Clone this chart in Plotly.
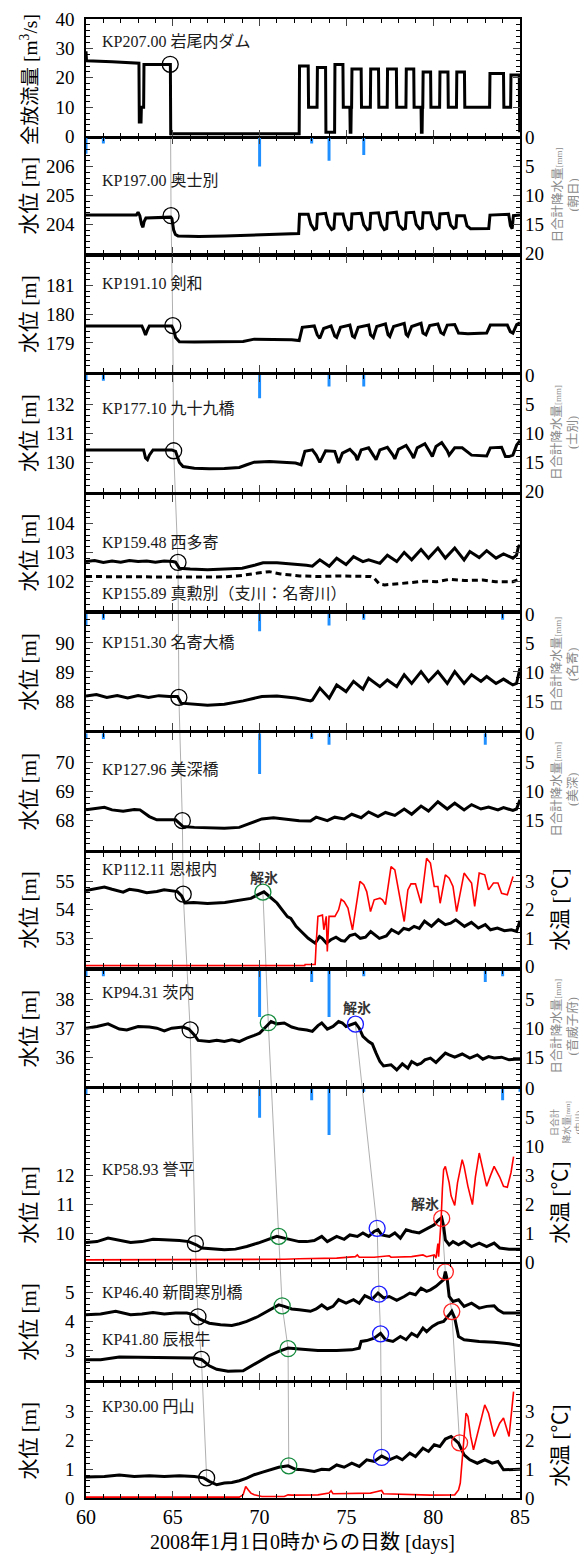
import plotly.graph_objects as go

# ======================= DATA =======================
X_RANGE = [60, 85]
X_TICKS = [60, 65, 70, 75, 80, 85]

# Panel 1: total outflow of Iwaonai dam [m3/s]
dam = [(60.0, 29), (60.03, 25.8), (61.5, 25.5), (62.5, 25.3), (63.05, 25.0), (63.07, 5), (63.17, 5), (63.19, 10),
       (63.32, 10), (63.34, 24.5), (64.86, 24.5), (64.88, 1.0), (72.28, 1.0), (72.3, 24), (72.8, 24), (72.82, 10),
       (73.31, 10), (73.33, 23.5), (73.8, 23.5), (73.82, 1.5), (74.32, 1.5), (74.34, 24.5), (74.8, 24.5), (74.82, 10),
       (75.2, 10), (75.22, 1.5), (75.26, 1.5), (75.28, 10), (75.3, 10), (75.32, 23), (75.85, 23), (75.87, 10),
       (76.38, 10), (76.4, 23), (76.85, 23), (76.87, 10), (77.35, 10), (77.37, 23), (77.88, 23), (77.9, 10),
       (78.43, 10), (78.45, 23), (78.88, 23), (78.9, 10), (79.3, 10), (79.32, 1.5), (79.36, 1.5), (79.38, 10),
       (79.4, 10), (79.42, 22), (79.85, 22), (79.87, 10), (80.37, 10), (80.39, 22), (80.85, 22), (80.87, 10),
       (81.34, 10), (81.36, 22), (81.8, 22), (81.82, 10), (83.25, 10), (83.27, 21.5), (84.05, 21.5), (84.07, 10),
       (84.46, 10), (84.48, 21), (84.96, 21), (84.98, 2), (85.0, 2)]

# Water levels [m]
okushibetsu = [(60.0, 204.32), (62.9, 204.32), (63.0, 204.42), (63.1, 204.3), (63.2, 204.0), (63.28, 203.9),
               (63.35, 204.1), (63.45, 204.22), (64.88, 204.25), (64.95, 204.2), (65.05, 203.8), (65.15, 203.65),
               (65.3, 203.6), (66.5, 203.58), (68.0, 203.6), (69.5, 203.62), (70.5, 203.65), (71.8, 203.66),
               (72.25, 203.68), (72.3, 204.35), (72.8, 204.35), (72.95, 204.0), (73.15, 203.82), (73.28, 203.86),
               (73.33, 204.35), (73.8, 204.38), (73.95, 204.0), (74.15, 203.82), (74.28, 203.86),
               (74.34, 204.36), (74.8, 204.36), (74.95, 203.98), (75.12, 203.82), (75.27, 203.86),
               (75.32, 204.36), (75.85, 204.38), (76.0, 203.98), (76.2, 203.82), (76.35, 203.86),
               (76.4, 204.38), (76.85, 204.4), (77.0, 203.98), (77.18, 203.82), (77.32, 203.86),
               (77.37, 204.38), (77.88, 204.42), (78.02, 203.98), (78.25, 203.83), (78.4, 203.86),
               (78.45, 204.4), (78.88, 204.42), (79.02, 204.0), (79.22, 203.85), (79.37, 203.88),
               (79.42, 204.4), (79.85, 204.4), (80.0, 204.0), (80.2, 203.84), (80.34, 203.88),
               (80.39, 204.36), (80.85, 204.38), (81.0, 203.98), (81.18, 203.86), (81.31, 203.9),
               (81.36, 204.3), (81.8, 204.3), (81.95, 203.95), (82.15, 203.85), (83.2, 203.86),
               (83.27, 204.32), (84.35, 204.35), (84.45, 203.95), (84.55, 203.85), (84.62, 204.3), (85.0, 204.32)]

kenwa = [(60.00, 179.59), (63.22, 179.59), (63.32, 179.45), (63.43, 179.28), (63.54, 179.45), (63.65, 179.59),
         (64.94, 179.59), (65.05, 179.45), (65.16, 179.19), (65.38, 179.04), (66.24, 179.03), (67.97, 179.04),
         (69.05, 179.05), (69.69, 179.13), (70.56, 179.13), (71.85, 179.11), (72.28, 179.08), (72.46, 179.54),
         (73.15, 179.59), (73.32, 179.28), (73.47, 179.16), (73.69, 179.5), (74.12, 179.59), (74.33, 179.24),
         (74.44, 179.19), (74.66, 179.54), (75.2, 179.62), (75.35, 179.24), (75.47, 179.19), (75.68, 179.54),
         (76.28, 179.62), (76.39, 179.28), (76.55, 179.19), (76.75, 179.57), (77.25, 179.66), (77.4, 179.28),
         (77.5, 179.22), (77.72, 179.57), (78.33, 179.68), (78.44, 179.3), (78.54, 179.24), (78.76, 179.57),
         (79.3, 179.68), (79.41, 179.34), (79.58, 179.28), (79.8, 179.6), (80.27, 179.66), (80.44, 179.36),
         (80.6, 179.3), (80.81, 179.62), (81.24, 179.64), (81.46, 179.34), (82.0, 179.32), (82.32, 179.32),
         (83.08, 179.34), (83.29, 179.62), (84.27, 179.62), (84.44, 179.39), (84.59, 179.34), (84.81, 179.64),
         (85.0, 179.7)]

tsukumo = [(60.00, 130.43), (63.32, 130.43), (63.43, 130.15), (63.54, 130.09), (63.65, 130.25), (63.86, 130.43),
           (64.94, 130.43), (65.16, 130.38), (65.38, 130.0), (65.59, 129.86), (66.24, 129.8), (67.1, 129.78),
           (67.97, 129.79), (68.83, 129.83), (69.26, 129.92), (69.69, 130.01), (70.56, 130.03), (71.42, 130.0),
           (72.07, 129.98), (72.39, 129.92), (72.61, 130.38), (73.04, 130.43), (73.26, 130.25), (73.47, 130.0),
           (73.58, 130.15), (73.8, 130.4), (74.33, 130.38), (74.44, 130.15), (74.55, 129.98), (74.77, 130.32),
           (75.2, 130.45), (75.52, 130.25), (75.63, 130.08), (75.85, 130.43), (76.28, 130.5), (76.6, 130.2),
           (76.71, 130.09), (76.93, 130.43), (77.36, 130.52), (77.68, 130.25), (77.79, 130.12), (78.0, 130.45),
           (78.44, 130.58), (78.76, 130.28), (78.87, 130.15), (79.08, 130.5), (79.52, 130.64), (79.84, 130.32),
           (79.95, 130.2), (80.16, 130.55), (80.49, 130.68), (80.81, 130.4), (80.92, 130.25), (81.24, 130.5),
           (81.67, 130.5), (82.21, 130.25), (83.08, 130.22), (83.29, 130.5), (83.94, 130.52), (84.16, 130.2),
           (84.37, 130.2), (84.59, 130.25), (84.81, 130.6), (85.0, 130.75)]

nishitayose = [(60.0, 102.68), (60.5, 102.72), (61.0, 102.65), (61.5, 102.7), (62.0, 102.66), (62.5, 102.72),
               (63.0, 102.68), (63.5, 102.7), (64.0, 102.66), (64.5, 102.7), (65.0, 102.68), (65.16, 102.66),
               (65.38, 102.45), (66.0, 102.42), (67.0, 102.4), (68.0, 102.42), (69.0, 102.45), (69.7, 102.55),
               (70.2, 102.64), (71.0, 102.64), (72.0, 102.6), (72.7, 102.55), (73.04, 102.52), (73.47, 102.74),
               (74.01, 102.52), (74.44, 102.8), (74.98, 102.58), (75.41, 102.85), (75.95, 102.68), (76.28, 102.74),
               (76.93, 102.62), (77.36, 102.9), (77.9, 102.68), (78.33, 103.0), (78.76, 102.74), (79.3, 103.1),
               (79.73, 102.8), (80.27, 103.15), (80.7, 102.8), (81.24, 103.15), (81.78, 102.74), (82.11, 103.03),
               (82.65, 102.82), (83.08, 103.06), (83.62, 102.8), (84.05, 102.95), (84.59, 102.8), (84.8, 102.9),
               (84.91, 103.2), (85.0, 103.25)]

makunbetsu = [(60.0, 102.16), (62.0, 102.15), (64.0, 102.16), (66.0, 102.14), (67.97, 102.15), (69.0, 102.2),
              (69.9, 102.28), (70.56, 102.33), (71.2, 102.25), (72.3, 102.18), (73.5, 102.16), (74.5, 102.18),
              (75.5, 102.17), (76.39, 102.16), (76.6, 102.1), (76.9, 101.9), (77.2, 101.87), (78.0, 101.9),
              (78.76, 101.95), (79.5, 102.0), (80.2, 101.98), (80.92, 102.06), (81.8, 102.02), (82.86, 102.04),
              (83.6, 101.98), (84.59, 101.98), (84.9, 102.05), (85.0, 102.12)]

nayoro_br = [(60.0, 88.17), (60.6, 88.22), (61.2, 88.12), (61.8, 88.18), (62.4, 88.1), (63.0, 88.18), (63.6, 88.12),
             (64.2, 88.18), (64.8, 88.15), (65.27, 88.15), (65.48, 87.92), (66.2, 87.88), (67.0, 87.85),
             (67.97, 87.88), (69.05, 88.0), (70.13, 88.15), (71.0, 88.17), (72.07, 88.1), (72.61, 88.05),
             (72.93, 88.0), (73.04, 88.03), (73.47, 88.44), (74.01, 88.09), (74.44, 88.55), (74.98, 88.32),
             (75.41, 88.67), (75.95, 88.4), (76.28, 88.78), (76.93, 88.49), (77.36, 88.72), (77.9, 88.49),
             (78.33, 88.9), (78.76, 88.6), (79.3, 89.01), (79.73, 88.67), (80.27, 89.01), (80.81, 88.6),
             (81.24, 89.01), (81.78, 88.6), (82.21, 88.9), (82.75, 88.67), (83.08, 88.84), (83.62, 88.6),
             (84.05, 88.75), (84.59, 88.55), (84.8, 88.6), (85.0, 89.13)]

bifuka_br = [(60.0, 68.37), (61.06, 68.46), (61.5, 68.37), (62.14, 68.32), (62.78, 68.38), (63.11, 68.37),
             (63.65, 68.14), (64.08, 68.03), (65.16, 68.03), (65.59, 67.8), (66.24, 67.77), (67.97, 67.74),
             (68.83, 67.77), (70.13, 68.06), (70.8, 68.1), (71.42, 68.06), (72.28, 68.0), (72.93, 67.99),
             (73.26, 68.12), (73.9, 68.0), (74.33, 68.12), (74.87, 68.06), (75.31, 68.22), (75.85, 68.1),
             (76.28, 68.3), (76.82, 68.14), (77.25, 68.28), (77.79, 68.18), (78.33, 68.4), (78.76, 68.22),
             (79.3, 68.5), (79.73, 68.33), (80.27, 68.65), (80.81, 68.4), (81.24, 68.6), (81.78, 68.37),
             (82.21, 68.55), (82.75, 68.4), (83.19, 68.47), (83.73, 68.37), (84.05, 68.45), (84.59, 68.35),
             (84.8, 68.4), (85.0, 68.72)]

onnenai = [(60.0, 54.68), (61.06, 54.8), (61.5, 54.72), (62.14, 54.62), (62.5, 54.72), (63.0, 54.68), (63.5, 54.6),
           (64.08, 54.64), (64.5, 54.7), (65.27, 54.64), (65.5, 54.5), (65.7, 54.24), (66.2, 54.26), (67.0, 54.22),
           (68.0, 54.26), (68.5, 54.3), (69.0, 54.35), (69.5, 54.4), (70.0, 54.56), (70.25, 54.63), (70.6, 54.45),
           (71.0, 54.24), (71.3, 54.0), (71.6, 53.76), (71.8, 53.7), (72.1, 53.42), (72.4, 53.24), (72.8, 53.0),
           (73.2, 52.83), (73.35, 52.95), (73.45, 53.06), (73.6, 53.0), (73.85, 52.83), (74.1, 52.95),
           (74.4, 53.04), (74.7, 52.92), (74.9, 52.9), (75.2, 53.1), (75.5, 53.15), (75.8, 53.0), (76.1, 53.04),
           (76.4, 53.24), (76.9, 53.0), (77.3, 53.08), (77.6, 53.3), (78.0, 53.17), (78.3, 53.35), (78.6, 53.3),
           (78.9, 53.42), (79.2, 53.35), (79.5, 53.6), (79.9, 53.42), (80.3, 53.65), (80.7, 53.48), (81.0, 53.53),
           (81.3, 53.65), (81.8, 53.42), (82.2, 53.56), (82.6, 53.36), (83.0, 53.48), (83.3, 53.3), (83.7, 53.36),
           (84.1, 53.27), (84.5, 53.3), (84.8, 53.24), (85.0, 53.62)]

ubaranai = [(60.0, 37.01), (60.63, 37.07), (61.27, 37.16), (61.92, 36.98), (62.35, 36.95), (63.0, 37.07),
            (63.65, 37.05), (64.08, 37.01), (64.51, 36.92), (64.94, 37.01), (65.59, 37.05), (65.92, 36.98),
            (66.24, 36.78), (66.46, 36.59), (67.1, 36.55), (67.53, 36.59), (67.97, 36.55), (68.4, 36.61),
            (68.83, 36.55), (69.26, 36.67), (69.69, 36.76), (70.0, 36.84), (70.38, 37.07), (70.66, 37.24),
            (70.99, 37.16), (71.42, 37.19), (71.85, 37.05), (72.28, 36.98), (72.72, 36.95), (73.04, 36.9),
            (73.36, 37.1), (73.58, 37.19), (73.9, 36.98), (74.23, 37.07), (74.55, 37.24), (74.77, 37.19),
            (74.98, 37.07), (75.2, 37.13), (75.52, 37.19), (75.74, 37.01), (75.95, 36.73), (76.28, 36.55),
            (76.49, 36.47), (76.71, 36.15), (76.93, 35.86), (77.14, 35.71), (77.57, 35.75), (77.9, 35.57),
            (78.22, 35.78), (78.54, 35.63), (78.76, 35.86), (79.08, 35.75), (79.3, 35.8), (79.52, 35.92),
            (79.84, 35.98), (80.16, 35.83), (80.49, 36.03), (80.7, 36.15), (80.92, 36.09), (81.24, 36.01),
            (81.67, 36.12), (82.11, 35.98), (82.54, 36.09), (82.86, 35.94), (83.19, 36.03), (83.51, 35.98),
            (83.94, 36.01), (84.37, 35.92), (84.7, 35.94), (85.0, 35.94)]

homarehira = [(60.0, 9.69), (60.63, 9.72), (61.27, 9.84), (61.92, 9.76), (62.57, 9.69), (63.22, 9.72), (63.86, 9.8),
              (64.51, 9.78), (65.38, 9.76), (65.92, 9.72), (66.35, 9.61), (66.67, 9.5), (67.32, 9.46), (67.97, 9.44),
              (68.61, 9.46), (69.26, 9.55), (69.91, 9.67), (70.56, 9.8), (70.99, 9.9), (71.42, 9.84), (71.85, 9.78),
              (72.28, 9.72), (72.72, 9.72), (73.15, 9.76), (73.58, 9.9), (73.9, 9.72), (74.44, 9.9), (74.87, 9.8),
              (75.2, 9.95), (75.63, 9.9), (75.95, 10.02), (76.28, 9.9), (76.6, 10.07), (76.82, 10.13),
              (77.03, 9.95), (77.47, 9.9), (77.79, 10.02), (78.11, 9.84), (78.44, 10.13), (78.76, 10.07),
              (79.19, 10.02), (79.52, 10.13), (79.84, 10.25), (80.06, 10.3), (80.27, 10.45), (80.49, 10.55),
              (80.6, 10.25), (80.7, 9.78), (80.92, 9.61), (81.14, 9.72), (81.46, 9.61), (81.78, 9.72),
              (82.21, 9.55), (82.65, 9.67), (83.08, 9.55), (83.51, 9.67), (83.83, 9.5), (84.37, 9.46), (85.0, 9.46)]

shinkanbetsu = [(60.0, 4.24), (60.84, 4.27), (61.71, 4.36), (62.57, 4.24), (63.22, 4.27), (63.86, 4.32),
                (64.51, 4.27), (65.16, 4.3), (65.81, 4.3), (66.24, 4.24), (66.56, 4.09), (67.1, 3.95),
                (67.75, 3.9), (68.4, 3.87), (68.83, 3.93), (69.26, 4.01), (69.91, 4.18), (70.56, 4.41),
                (71.1, 4.58), (71.42, 4.53), (71.85, 4.44), (72.28, 4.41), (72.93, 4.36), (73.26, 4.44),
                (73.58, 4.58), (73.9, 4.44), (74.23, 4.53), (74.55, 4.76), (74.98, 4.64), (75.41, 4.76),
                (75.74, 4.64), (76.06, 4.9), (76.49, 4.78), (76.82, 4.99), (77.14, 4.82), (77.47, 4.87),
                (77.9, 4.74), (78.33, 4.87), (78.65, 4.99), (78.98, 4.93), (79.3, 5.16), (79.62, 5.05),
                (79.84, 5.1), (80.16, 5.22), (80.38, 5.33), (80.6, 5.45), (80.7, 5.73), (80.81, 5.45),
                (80.92, 4.87), (81.14, 4.7), (81.46, 4.76), (81.78, 4.53), (82.21, 4.64), (82.65, 4.47),
                (83.08, 4.53), (83.51, 4.55), (83.73, 4.41), (84.05, 4.3), (84.37, 4.3), (85.0, 4.3)]

tatsuneushi = [(60.0, 2.69), (60.84, 2.69), (61.92, 2.78), (62.78, 2.77), (64.08, 2.75), (65.16, 2.75),
               (66.24, 2.75), (66.67, 2.69), (67.1, 2.48), (67.53, 2.36), (68.18, 2.29), (69.05, 2.31),
               (69.48, 2.46), (70.13, 2.69), (70.56, 2.83), (71.1, 2.98), (71.64, 3.09), (72.28, 3.06),
               (73.36, 3.01), (74.44, 3.01), (75.31, 3.03), (75.74, 3.09), (75.85, 3.32), (76.17, 3.35),
               (76.6, 3.43), (76.97, 3.6), (77.25, 3.38), (77.68, 3.32), (78.11, 3.49), (78.44, 3.38),
               (78.76, 3.6), (79.08, 3.49), (79.41, 3.78), (79.62, 3.66), (79.95, 3.84), (80.27, 3.95),
               (80.6, 4.01), (80.92, 4.24), (81.07, 4.36), (81.24, 4.13), (81.46, 3.49), (81.78, 3.38),
               (82.65, 3.32), (83.51, 3.29), (84.37, 3.24), (85.0, 3.17)]

maruyama = [(60.0, 0.73), (61.06, 0.75), (61.92, 0.8), (62.78, 0.75), (63.65, 0.77), (64.51, 0.75), (65.38, 0.77),
            (66.24, 0.75), (66.78, 0.7), (67.1, 0.58), (67.53, 0.46), (67.97, 0.52), (68.4, 0.54), (68.83, 0.6),
            (69.26, 0.69), (69.69, 0.81), (70.13, 0.89), (70.56, 0.98), (71.1, 1.07), (71.64, 1.12), (72.07, 1.0),
            (72.5, 0.98), (73.15, 0.92), (73.58, 1.0), (74.01, 0.98), (74.44, 1.15), (74.87, 1.07), (75.31, 1.21),
            (75.74, 1.1), (76.17, 1.33), (76.6, 1.27), (77.03, 1.46), (77.47, 1.33), (77.9, 1.44), (78.22, 1.33),
            (78.65, 1.56), (78.98, 1.44), (79.41, 1.73), (79.73, 1.62), (80.06, 1.85), (80.38, 1.79), (80.7, 2.05),
            (81.03, 2.14), (81.24, 2.03), (81.46, 1.91), (81.78, 1.5), (82.11, 1.33), (82.54, 1.21), (82.97, 1.33),
            (83.4, 1.21), (83.73, 1.27), (84.05, 0.98), (84.59, 0.98), (85.0, 1.0)]

# Water temperature [deg C]
temp_onnenai = [(60.0, 0.04), (72.6, 0.04), (72.62, 0.08), (73.2, 0.08), (73.26, 0.83), (73.36, 1.77), (73.62, 1.82),
                (73.7, 1.3), (73.84, 1.77), (73.9, 0.54), (74.0, 1.77), (74.34, 1.77), (74.55, 2.0), (74.7, 2.37),
                (74.87, 2.29), (75.09, 2.06), (75.35, 1.3), (75.63, 2.47), (75.78, 3.0), (76.0, 2.88),
                (76.17, 2.64), (76.39, 1.94), (76.6, 2.35), (76.93, 2.41), (77.08, 2.35), (77.25, 2.18),
                (77.57, 3.52), (77.79, 3.4), (78.0, 2.7), (78.33, 1.59), (78.54, 2.7), (78.72, 2.91),
                (78.98, 2.91), (79.3, 2.23), (79.62, 3.81), (79.84, 3.64), (80.06, 2.82), (80.27, 2.82),
                (80.4, 2.23), (80.7, 3.23), (80.92, 3.11), (81.14, 2.82), (81.35, 1.94), (81.78, 3.29),
                (82.0, 3.11), (82.21, 2.94), (82.39, 2.12), (82.65, 3.29), (82.97, 3.23), (83.19, 2.7),
                (83.47, 2.94), (83.73, 2.94), (83.94, 2.58), (84.27, 2.53), (84.6, 3.17)]

temp_homarehira = [(60.0, 0.09), (70.13, 0.09), (71.42, 0.11), (72.28, 0.13), (74.44, 0.15), (75.52, 0.2),
                   (75.63, 0.26), (75.74, 0.18), (76.6, 0.18), (77.47, 0.23), (77.57, 0.18), (78.76, 0.2),
                   (79.41, 0.26), (79.62, 0.2), (80.06, 0.26), (80.16, 0.15), (80.27, 0.65), (80.31, 0.2),
                   (80.45, 1.4), (80.53, 2.55), (80.6, 3.2), (80.7, 3.32), (80.92, 2.75), (81.03, 2.3),
                   (81.24, 1.97), (81.4, 2.75), (81.67, 3.55), (81.78, 3.32), (82.0, 2.63), (82.26, 2.0),
                   (82.43, 2.95), (82.65, 3.78), (82.86, 3.2), (83.08, 2.63), (83.3, 3.0), (83.51, 3.32),
                   (83.83, 2.95), (84.05, 2.63), (84.27, 2.6), (84.48, 3.1), (84.63, 3.66)]

temp_maruyama = [(60.0, 0.03), (68.83, 0.03), (69.05, 0.11), (69.2, 0.4), (69.35, 0.28), (69.5, 0.17),
                 (69.69, 0.11), (70.13, 0.05), (71.42, 0.05), (71.64, 0.11), (71.85, 0.1), (73.36, 0.11),
                 (74.0, 0.17), (74.12, 0.25), (74.23, 0.15), (75.74, 0.16), (76.39, 0.17), (76.6, 0.2),
                 (77.03, 0.26), (77.14, 0.15), (78.76, 0.11), (79.84, 0.1), (81.24, 0.11), (81.46, 0.28),
                 (81.56, 0.52), (81.67, 1.33), (81.78, 2.26), (81.89, 2.95), (82.0, 2.84), (82.16, 2.14),
                 (82.32, 1.68), (82.65, 2.49), (82.97, 3.24), (83.19, 2.95), (83.51, 2.14), (83.83, 2.6),
                 (84.05, 2.78), (84.37, 2.14), (84.5, 2.9), (84.63, 3.7)]

# Daily precipitation [mm]: (day, mm)
rain_asahi = [(60, 2.8), (61, 1), (70, 5), (73, 1), (74, 4), (76, 3)]
rain_shibetsu = [(60, 1), (61, 1), (70, 4), (74, 2), (76, 2)]
rain_nayoro = [(60, 2), (61, 1), (70, 3), (74, 2), (76, 1), (84, 1)]
rain_bifuka = [(60, 1), (61, 1), (70, 7), (73, 1), (74, 2), (83, 2)]
rain_otoineppu = [(60, 1), (61, 1), (70, 8), (73, 2), (74, 8), (76, 1), (83, 2), (84, 1)]
rain_nakagawa = [(60, 1), (70, 5), (73, 2), (74, 8), (76, 0.5), (84, 2), (85, 0.5)]

# Break-up events: (day, level, panel index)
ev_black = [(64.85, 24.6, 0), (64.9, 204.3, 1), (65.0, 179.6, 2), (65.05, 130.4, 3), (65.3, 102.65, 4),
            (65.35, 88.12, 5), (65.55, 68.0, 6), (65.6, 54.55, 7), (66.0, 36.95, 8), (66.3, 9.65, 9),
            (66.45, 4.17, 10), (66.65, 2.7, 10), (66.95, 0.7, 11)]
ev_green = [(70.19, 54.62, 7), (70.5, 37.2, 8), (71.1, 9.9, 9), (71.3, 4.55, 10), (71.64, 3.07, 10), (71.68, 1.12, 11)]
ev_blue = [(75.52, 37.15, 8), (76.77, 10.18, 9), (76.88, 4.95, 10), (76.97, 3.58, 10), (77.03, 1.41, 11)]
ev_red = [(80.49, 10.52, 9), (80.7, 5.72, 10), (81.07, 4.35, 10), (81.52, 1.92, 11)]
thaw_labels = [(70.23, 7), (75.63, 8), (79.52, 9)]

station_labels = ["KP207.00 岩尾内ダム", "KP197.00 奥士別", "KP191.10 剣和", "KP177.10 九十九橋",
                  "KP159.48 西多寄", "KP151.30 名寄大橋", "KP127.96 美深橋", "KP112.11 恩根内",
                  "KP94.31 茨内", "KP58.93 誉平", "KP46.40 新間寒別橋", "KP30.00 円山"]
sub_labels = ["KP155.89 真勲別（支川：名寄川）", "KP41.80 辰根牛"]
rain_names = ["(朝日)", "(士別)", "(名寄)", "(美深)", "(音威子府)", "(中川)"]

left_ranges = [[0, 40], [203, 207], [178, 182], [129, 133], [101, 105], [87, 91], [67, 71], [52, 56],
               [35, 39], [9, 15], [2, 6], [0, 4]]
left_ticks = [[0, 10, 20, 30, 40], [204, 205, 206], [179, 180, 181], [130, 131, 132], [102, 103, 104],
              [88, 89, 90], [68, 69, 70], [53, 54, 55], [36, 37, 38], [10, 11, 12], [3, 4, 5], [0, 1, 2, 3]]
left_titles = ["全放流量 [m<sup>3</sup>/s]"] + ["水位 [m]"] * 11

# ======================= LAYOUT =======================
PAGE_OFF = 8            # default body margin of the html page
PAGE_W, PAGE_H = 587, 1557
PLOT_L, PLOT_R, PLOT_T, PLOT_B = 86, 520, 19, 1498.3   # plot area in page pixels
W, H = PAGE_W - PAGE_OFF, PAGE_H - PAGE_OFF
ML, MT = PLOT_L - PAGE_OFF, PLOT_T - PAGE_OFF
MR = W - (PLOT_R - PAGE_OFF)
MB = H - (PLOT_B - PAGE_OFF)
PANEL_PX = [(19, 136.7), (137.7, 253.3), (256.7, 371.7), (375, 491.7), (495, 610), (614, 730), (733.3, 850),
            (853, 967), (970.7, 1086.7), (1089, 1262.7), (1264, 1380), (1383.3, 1498.3)]
PH = PLOT_B - PLOT_T
PW = PLOT_R - PLOT_L


def py(p):
    return (PLOT_B - p) / PH


def pxx(p):
    return (p - PLOT_L) / PW


domains = [[py(b), py(t)] for t, b in PANEL_PX]

SERIF = "Liberation Serif, Noto Sans CJK JP, serif"
BLUE = "#1f8fff"
RED = "#ff0000"


def sfx(i):
    return "" if i == 0 else str(i + 1)


def to_paper(p, v):
    r = left_ranges[p]
    d = domains[p]
    return d[0] + (v - r[0]) / (r[1] - r[0]) * (d[1] - d[0])


fig = go.Figure()
layout = dict(template="none", width=W, height=H, margin=dict(l=ML, r=MR, t=MT, b=MB, autoexpand=False),
              paper_bgcolor="white", plot_bgcolor="rgba(0,0,0,0)", showlegend=False,
              font=dict(family=SERIF, size=19, color="black"), barmode="overlay")

for i in range(12):
    s = sfx(i)
    layout["xaxis" + s] = dict(domain=[0, 1], range=X_RANGE, anchor="y" + s, tickvals=X_TICKS,
                               ticks="inside", ticklen=7, tickwidth=1.2, mirror="ticks", showline=True,
                               linecolor="black", linewidth=1.5, showgrid=False, zeroline=False,
                               automargin=False, showticklabels=(i == 11), tickfont=dict(size=20),
                               minor=dict(dtick=1, tick0=60, ticks="inside", ticklen=4, tickcolor="black",
                                          showgrid=False))
    if i > 0:
        layout["xaxis" + s]["matches"] = "x"
    lr = left_ranges[i]
    mdt = 2 if i == 0 else 0.2
    layout["yaxis" + s] = dict(domain=domains[i], range=lr, anchor="x" + s, tickvals=left_ticks[i],
                               ticks="inside", ticklen=7, tickwidth=1.2, mirror="ticks", showline=True,
                               linecolor="black", linewidth=1.5, showgrid=False, zeroline=False,
                               automargin=False, ticklabelstandoff=6, tickfont=dict(size=19),
                               minor=dict(dtick=mdt, tick0=0, ticks="inside", ticklen=4, tickcolor="black",
                                          showgrid=False))

extra = 13


def add_right_axis(panel, rng, tickvals, minor_dt):
    global extra
    name = str(extra)
    extra += 1
    layout["yaxis" + name] = dict(overlaying="y" + sfx(panel), side="right", anchor="x" + sfx(panel),
                                  range=rng, tickvals=tickvals, ticks="inside", ticklen=7, tickwidth=1.2,
                                  showline=False, showgrid=False, zeroline=False, tickfont=dict(size=19),
                                  ticklabelstandoff=4, automargin=False,
                                  minor=dict(dtick=minor_dt, tick0=0, ticks="inside", ticklen=4,
                                             tickcolor="black", showgrid=False))
    return "y" + name


# left-axis series
series = [(0, dam, "solid"), (1, okushibetsu, "solid"), (2, kenwa, "solid"), (3, tsukumo, "solid"),
          (4, makunbetsu, "dash"), (4, nishitayose, "solid"), (5, nayoro_br, "solid"), (6, bifuka_br, "solid"),
          (7, onnenai, "solid"), (8, ubaranai, "solid"), (9, homarehira, "solid"), (10, shinkanbetsu, "solid"),
          (10, tatsuneushi, "solid"), (11, maruyama, "solid")]
for p, data, dash in series:
    t, v = zip(*data)
    fig.add_trace(go.Scatter(x=t, y=v, mode="lines", xaxis="x" + sfx(p), yaxis="y" + sfx(p),
                             line=dict(color="black", width=3, dash=("6px,4px" if dash == "dash" else "solid")),
                             hoverinfo="skip"))

# precipitation
rain_sets = [(1, rain_asahi, [20, 0], [0, 5, 10, 15, 20]), (3, rain_shibetsu, [20, 0], [0, 5, 10, 15, 20]),
             (5, rain_nayoro, [20, 0], [0, 5, 10, 15]), (6, rain_bifuka, [20, 0], [0, 5, 10, 15]),
             (8, rain_otoineppu, [20, 0], [5, 10, 15]), (9, rain_nakagawa, [30, 0], [0, 5, 10])]
for p, data, rng, tv in rain_sets:
    yname = add_right_axis(p, rng, tv, 1)
    d, mm = zip(*data)
    fig.add_trace(go.Bar(x=d, y=mm, width=0.17, xaxis="x" + sfx(p), yaxis=yname,
                         marker=dict(color=BLUE, line=dict(width=0)), hoverinfo="skip"))

# water temperature
temp_sets = [(7, temp_onnenai, [0, 4]), (9, temp_homarehira, [0, 6]), (11, temp_maruyama, [0, 4])]
for p, data, rng in temp_sets:
    yname = add_right_axis(p, rng, [0, 1, 2, 3], 0.2)
    t, v = zip(*data)
    fig.add_trace(go.Scatter(x=t, y=v, mode="lines", xaxis="x" + sfx(p), yaxis=yname,
                             line=dict(color=RED, width=1.6), hoverinfo="skip"))

# connector lines and circles
shapes = []
for evs, col in [(ev_black, "black"), (ev_green, "#138a3c"), (ev_blue, "#1a1aff"), (ev_red, "#ff2020")]:
    for k in range(len(evs) - 1):
        a, b = evs[k], evs[k + 1]
        shapes.append(dict(type="line", xref="x", yref="paper", x0=a[0], x1=b[0],
                           y0=to_paper(a[2], a[1]), y1=to_paper(b[2], b[1]),
                           line=dict(color="#b0b0b0", width=1), layer="below"))
    for t, v, p in evs:
        fig.add_trace(go.Scatter(x=[t], y=[v], mode="markers", xaxis="x" + sfx(p), yaxis="y" + sfx(p),
                                 marker=dict(symbol="circle-open", size=16, color=col, line=dict(width=1.3)),
                                 cliponaxis=False, hoverinfo="skip"))

annotations = []


def note(text, x, y, xref="paper", size=19, color="black", angle=0, xanchor="center", family=None):
    f = dict(size=size, color=color)
    if family:
        f["family"] = family
    annotations.append(dict(text=text, xref=xref, yref="paper", x=x, y=y, xanchor=xanchor, yanchor="middle",
                            showarrow=False, textangle=angle, font=f))


label_px = [41.7, 181, 284, 409, 542.5, 642.5, 770, 870, 992.5, 1170, 1293, 1407]
for i, txt in enumerate(station_labels):
    note(txt, 60.8, py(label_px[i]), xref="x", size=16, color="#1a1a1a", xanchor="left")
note(sub_labels[0], 60.8, py(594), xref="x", size=16, color="#1a1a1a", xanchor="left")
note(sub_labels[1], 60.8, py(1340), xref="x", size=16, color="#1a1a1a", xanchor="left")

thaw_px = [876.7, 1007, 1203.3]
for (t, p), ypx in zip(thaw_labels, thaw_px):
    note("<b>解氷</b>", t, py(ypx), xref="x", size=14, color="#333333", family="Noto Sans CJK JP")

# left titles
left_title_px = [80, 195.5, 314, 433, 552.5, 672, 791.7, 910, 1028.7, 1205, 1322, 1440.8]
left_title_size = [19.5] + [21] * 11
for i, txt in enumerate(left_titles):
    note(txt, pxx(29), py(left_title_px[i]), size=left_title_size[i], angle=-90)

# right titles
rain_title_px = [195.5, 433, 665, 790, 1027]
for k, p_y in enumerate(rain_title_px):
    note("日合計降水量<span style='font-size:9px'>[mm]</span><br>" + rain_names[k], pxx(565), py(p_y),
         size=12.5, color="#8a8a8a", angle=-90)
note("日合計<br>降水量<span style='font-size:7px'>[mm]</span><br>" + rain_names[5], pxx(566), py(1123),
     size=9, color="#8a8a8a", angle=-90)
for p_y in [910, 1203, 1446]:
    note("水温 [℃]", pxx(560), py(p_y), size=21, angle=-90)

note("2008年1月1日0時からの日数 [days]", pxx(302), py(1543), size=20)

layout["shapes"] = shapes
layout["annotations"] = annotations
fig.update_layout(layout)
fig.write_html("out.html")
